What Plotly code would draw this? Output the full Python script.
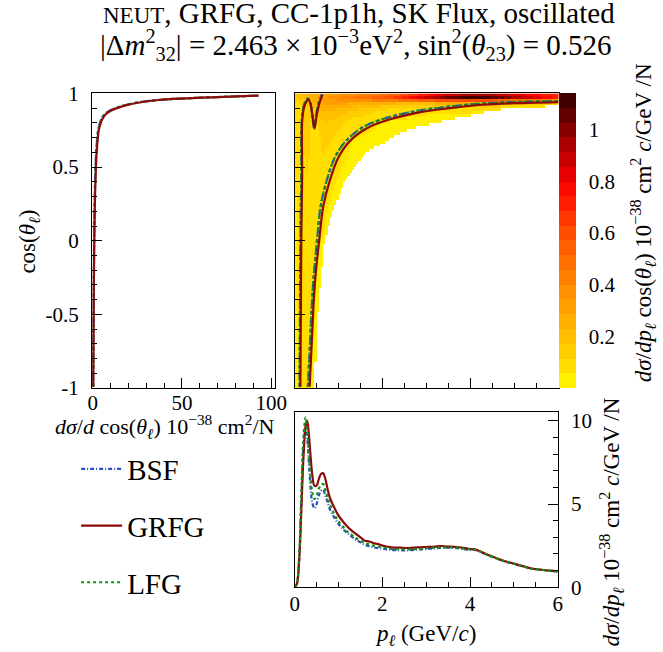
import numpy as np
import plotly.graph_objects as go

W, H = 663, 652
SERIF = "Liberation Serif"

# ---------------- dsigma/dcos(theta_l) ----------------
cos_pts = [-0.99, -0.9, -0.7, -0.5, -0.3, -0.1, 0.0, 0.1, 0.3, 0.5, 0.6, 0.7,
           0.75, 0.8, 0.83, 0.86, 0.88, 0.90, 0.92, 0.94, 0.955, 0.965, 0.975, 0.985]
dcos_grfg = [0.3, 0.35, 0.45, 0.55, 0.65, 0.8, 0.9, 1.0, 1.3, 1.8, 2.2, 2.9,
             3.4, 4.5, 5.6, 7.5, 9.8, 13.6, 19.0, 27.0, 37.0, 50.0, 70.0, 93.0]
dcos_lfg = [0.27, 0.32, 0.41, 0.5, 0.6, 0.72, 0.8, 0.9, 1.15, 1.6, 1.95, 2.6,
            3.1, 4.1, 5.1, 6.9, 9.2, 12.9, 18.2, 26.2, 36.5, 49.5, 70.0, 93.5]
dcos_bsf = [0.26, 0.31, 0.4, 0.49, 0.58, 0.7, 0.78, 0.88, 1.12, 1.55, 1.9, 2.55,
            3.05, 4.0, 5.0, 6.8, 9.1, 12.8, 18.0, 26.0, 36.3, 49.3, 69.8, 93.4]

# ---------------- dsigma/dp_l ----------------
p_pts = [0.0, 0.05, 0.1, 0.15, 0.2, 0.25, 0.28, 0.3, 0.35, 0.4, 0.45, 0.5, 0.55,
         0.6, 0.65, 0.7, 0.75, 0.8, 0.9, 1.0, 1.1, 1.2, 1.3, 1.4, 1.5, 1.6, 1.7,
         1.8, 1.9, 2.0, 2.1, 2.2, 2.4, 2.6, 2.8, 3.0, 3.2, 3.3, 3.5, 3.7, 3.9,
         4.0, 4.1, 4.2, 4.4, 4.6, 4.8, 5.0, 5.2, 5.4, 5.6, 5.8, 6.0]
dp_grfg = [0.0, 0.2, 1.5, 4.5, 7.8, 9.7, 10.0, 9.8, 8.3, 6.8, 6.1, 6.1, 6.5,
           6.8, 6.85, 6.5, 5.9, 5.4, 4.8, 4.3, 3.95, 3.65, 3.4, 3.2, 3.0, 2.8, 2.75,
           2.65, 2.6, 2.5, 2.45, 2.4, 2.38, 2.36, 2.4, 2.42, 2.44, 2.48, 2.45, 2.42, 2.35,
           2.3, 2.28, 2.2, 1.95, 1.75, 1.56, 1.42, 1.27, 1.13, 1.06, 1.0, 0.95]
dp_lfg = [0.0, 0.25, 1.8, 5.5, 9.0, 10.2, 9.6, 9.0, 7.0, 5.7, 5.3, 5.5, 5.9,
          6.15, 6.2, 5.8, 5.4, 5.0, 4.4, 3.95, 3.65, 3.35, 3.15, 2.95, 2.8, 2.65, 2.58,
          2.5, 2.45, 2.4, 2.35, 2.3, 2.28, 2.27, 2.3, 2.35, 2.38, 2.4, 2.4, 2.38, 2.3,
          2.28, 2.26, 2.18, 1.95, 1.74, 1.56, 1.42, 1.27, 1.13, 1.06, 1.0, 0.95]
dp_bsf = [0.0, 0.22, 1.6, 5.0, 8.4, 9.5, 9.1, 8.5, 6.4, 5.1, 4.75, 5.0, 5.5,
          5.8, 5.85, 5.5, 5.1, 4.7, 4.2, 3.8, 3.5, 3.25, 3.05, 2.85, 2.7, 2.55, 2.47,
          2.4, 2.36, 2.32, 2.28, 2.25, 2.22, 2.22, 2.26, 2.3, 2.34, 2.36, 2.38, 2.35, 2.28,
          2.25, 2.24, 2.17, 1.94, 1.74, 1.55, 1.41, 1.26, 1.13, 1.06, 1.0, 0.95]

# ---------------- contour lines on the (p, cos) plane ----------------
loop_p_grfg = [0.13, 0.14, 0.15, 0.17, 0.17, 0.21, 0.26, 0.31, 0.36, 0.40, 0.45, 0.50, 0.56, 0.63]
loop_c_grfg = [-0.99, -0.5, 0.0, 0.44, 0.81, 0.90, 0.94, 0.96, 0.93, 0.86, 0.76, 0.85, 0.93, 0.99]
arm_p_grfg = [0.34, 0.39, 0.43, 0.47, 0.56, 0.65, 0.80, 0.99, 1.24, 1.62, 2.06, 2.8, 3.54, 4.28, 5.02, 5.99]
arm_c_grfg = [-0.99, -0.68, -0.43, -0.25, 0.01, 0.235, 0.41, 0.563, 0.672, 0.76, 0.814, 0.869, 0.90, 0.923, 0.934, 0.941]

loop_p_alt = [0.11, 0.12, 0.13, 0.15, 0.16, 0.20, 0.25, 0.30, 0.35, 0.39, 0.44, 0.49, 0.55, 0.62]
loop_c_alt = [-0.99, -0.5, 0.0, 0.44, 0.81, 0.91, 0.95, 0.965, 0.94, 0.87, 0.77, 0.86, 0.94, 0.995]
arm_p_alt = [0.30, 0.35, 0.39, 0.43, 0.51, 0.59, 0.73, 0.91, 1.15, 1.52, 1.96, 2.7, 3.44, 4.2, 4.96, 5.99]
arm_c_alt = [-0.99, -0.68, -0.43, -0.25, 0.01, 0.235, 0.41, 0.563, 0.672, 0.765, 0.822, 0.877, 0.908, 0.93, 0.941, 0.948]

# ---------------- 2D cross section: sampled levels ----------------
hm_cos = [-0.99, -0.6, -0.2, 0.2, 0.5, 0.7, 0.8, 0.86, 0.9, 0.93, 0.95, 0.97, 0.99]
hm_p = [0.025, 0.15, 0.3, 0.45, 0.65, 0.9, 1.3, 2.0, 2.5, 3.0, 3.5, 4.0, 4.5, 5.0, 5.5, 6.0]
hm_levels = [
    [0.04, 0.065, 0.065, 0.04, 0.03, 0.03, 0.03, 0.03, 0.03, 0.03, 0.03, 0.03, 0.03, 0.03, 0.03, 0.03],
    [0.045, 0.07, 0.075, 0.05, 0.035, 0.03, 0.03, 0.03, 0.03, 0.03, 0.03, 0.03, 0.03, 0.03, 0.03, 0.03],
    [0.05, 0.08, 0.085, 0.06, 0.045, 0.03, 0.03, 0.03, 0.03, 0.03, 0.03, 0.03, 0.03, 0.03, 0.03, 0.03],
    [0.055, 0.09, 0.1, 0.065, 0.065, 0.04, 0.03, 0.03, 0.03, 0.03, 0.03, 0.03, 0.03, 0.03, 0.03, 0.03],
    [0.06, 0.1, 0.12, 0.065, 0.1, 0.07, 0.04, 0.03, 0.03, 0.03, 0.03, 0.03, 0.03, 0.03, 0.03, 0.03],
    [0.065, 0.11, 0.13, 0.07, 0.14, 0.11, 0.06, 0.04, 0.03, 0.03, 0.03, 0.03, 0.03, 0.03, 0.03, 0.03],
    [0.07, 0.11, 0.13, 0.09, 0.17, 0.15, 0.09, 0.055, 0.045, 0.04, 0.035, 0.03, 0.03, 0.03, 0.03, 0.03],
    [0.08, 0.11, 0.13, 0.13, 0.21, 0.2, 0.14, 0.085, 0.07, 0.06, 0.055, 0.05, 0.045, 0.04, 0.04, 0.04],
    [0.09, 0.11, 0.13, 0.17, 0.25, 0.25, 0.2, 0.13, 0.1, 0.09, 0.085, 0.08, 0.07, 0.06, 0.055, 0.05],
    [0.11, 0.12, 0.15, 0.21, 0.29, 0.3, 0.28, 0.24, 0.22, 0.22, 0.24, 0.24, 0.22, 0.19, 0.16, 0.13],
    [0.13, 0.15, 0.19, 0.25, 0.31, 0.34, 0.36, 0.42, 0.47, 0.54, 0.62, 0.62, 0.57, 0.5, 0.44, 0.38],
    [0.17, 0.19, 0.23, 0.27, 0.32, 0.37, 0.44, 0.56, 0.7, 0.88, 1.04, 1.12, 1.08, 0.96, 0.82, 0.7],
    [0.19, 0.21, 0.24, 0.27, 0.3, 0.33, 0.38, 0.47, 0.6, 0.74, 0.88, 0.94, 0.92, 0.84, 0.76, 0.68],
]
# kinematic edge: largest filled p per cos row
edge_cos = [-1.0, -0.5, 0.0, 0.2, 0.4, 0.5, 0.6, 0.7, 0.76, 0.8, 0.845, 0.875, 0.9, 0.915, 1.0]
edge_p = [0.45, 0.52, 0.68, 0.87, 1.12, 1.35, 1.65, 2.2, 2.6, 3.2, 3.9, 4.4, 4.9, 6.1, 6.1]

# bins of the 2D histogram
p_edges = np.linspace(0.0, 6.0, 121)
c_edges = np.linspace(-1.0, 1.0, 101)
p_c = 0.5 * (p_edges[1:] + p_edges[:-1])
c_c = 0.5 * (c_edges[1:] + c_edges[:-1])

lev = np.array(hm_levels)
rows_on_p = np.array([np.interp(p_c, hm_p, r) for r in lev])
z = np.empty((len(c_c), len(p_c)))
for j in range(len(p_c)):
    z[:, j] = np.interp(c_c, hm_cos, rows_on_p[:, j])
pmax = np.interp(c_c, edge_cos, edge_p)
zz = [[(float(z[i, j]) if p_c[j] <= pmax[i] else None) for j in range(len(p_c))]
      for i in range(len(c_c))]

ZMAX = 1.14
cb_ticks = [0.2, 0.4, 0.6, 0.8, 1.0]
cb_text = ["0.2", "0.4", "0.6", "0.8", "1"]
band_cols = ["#fff000", "#ffde00", "#ffcd00", "#ffbe00", "#ffaf00", "#ffa000",
             "#ff9100", "#ff8000", "#ff7000", "#ff5f00", "#ff4e00", "#ff3700",
             "#ff1e00", "#fa0a00", "#e60000", "#c80000", "#aa0000", "#870000",
             "#640000", "#410000"]
cscale = []
nb = len(band_cols)
for k, col in enumerate(band_cols):
    cscale.append([k / nb, col])
    cscale.append([(k + 1) / nb, col])

RED = "#8c0a0a"
BLUE = "#2a4fc0"
GREEN = "#159015"
BSF_DASH = "4px,2px,1px,2px"

# panel frames in pixels
TOP, MID = 84.5, 390.5
CB_L, CB_W = 568.3, 17

fig = go.Figure()

fig.add_trace(go.Heatmap(
    x=p_c, y=c_c, z=zz, zmin=0, zmax=ZMAX, colorscale=cscale, zsmooth=False,
    xaxis="x2", yaxis="y2", hoverinfo="skip",
    colorbar=dict(x=CB_L / W, xanchor="left", xpad=0, ypad=0, thickness=CB_W,
                  len=(MID - TOP) / H, y=1 - (TOP + MID) / 2 / H, yanchor="middle",
                  tickvals=cb_ticks, ticktext=cb_text,
                  ticks="outside", ticklen=9, tickcolor="rgba(0,0,0,0)", outlinewidth=0,
                  tickfont=dict(family=SERIF, size=21, color="black")),
))

# contours (GRFG drawn on top)
for lp, lc, ap, ac, col, dash in [
        (loop_p_alt, loop_c_alt, arm_p_alt, arm_c_alt, BLUE, BSF_DASH),
        (loop_p_alt, loop_c_alt, arm_p_alt, arm_c_alt, GREEN, "dot"),
        (loop_p_grfg, loop_c_grfg, arm_p_grfg, arm_c_grfg, RED, "solid")]:
    for xs, ys in [(lp, lc), (ap, ac)]:
        fig.add_trace(go.Scatter(x=xs, y=ys, mode="lines", line=dict(color=col, width=2.2, dash=dash, shape="spline"),
                                 xaxis="x2", yaxis="y2", showlegend=False, hoverinfo="skip"))

# left panel
for xs, col, dash in [(dcos_bsf, BLUE, BSF_DASH), (dcos_lfg, GREEN, "dot"), (dcos_grfg, RED, "solid")]:
    fig.add_trace(go.Scatter(x=xs, y=cos_pts, mode="lines", line=dict(color=col, width=2.2, dash=dash, shape="spline"),
                             xaxis="x", yaxis="y", showlegend=False, hoverinfo="skip"))

# bottom panel (legend entries)
for ys, col, dash, name in [(dp_bsf, BLUE, BSF_DASH, "BSF"), (dp_grfg, RED, "solid", "GRFG"),
                            (dp_lfg, GREEN, "dot", "LFG")]:
    fig.add_trace(go.Scatter(x=p_pts, y=ys, mode="lines", name=name, legendgroup=name,
                             line=dict(color=col, width=2.2, dash=dash, shape="spline"),
                             xaxis="x3", yaxis="y3", hoverinfo="skip"))

tickfont = dict(family=SERIF, size=21, color="black")
common = dict(showgrid=False, zeroline=False, showline=True, linecolor="black", linewidth=1,
              mirror=True, ticks="inside", ticklen=10, tickcolor="black", tickfont=tickfont)

ydom = [1 - MID / H, 1 - TOP / H]
fig.update_layout(
    width=W, height=H, margin=dict(l=0, r=0, t=0, b=0),
    paper_bgcolor="white", plot_bgcolor="white",
    xaxis=dict(domain=[89.3 / W, 276.7 / W], range=[-0.4, 101.9], tickvals=[0, 50, 100],
               minor=dict(dtick=10, ticklen=5, ticks="inside", tickcolor="black"), anchor="y",
               ticklabelstandoff=-4, **common),
    yaxis=dict(domain=ydom, range=[-1, 1], tickvals=[-1, -0.5, 0, 0.5, 1],
               ticktext=["-1", "-0.5", "0", "0.5", "1"], ticklabelstandoff=8,
               minor=dict(dtick=0.1, ticklen=5, ticks="inside", tickcolor="black"), anchor="x", **common),
    xaxis2=dict(domain=[297.3 / W, CB_L / W], range=[0, 6], tickvals=[0, 2, 4, 6], showticklabels=False,
                minor=dict(dtick=0.5, ticklen=5, ticks="inside", tickcolor="black"), anchor="y2", **common),
    yaxis2=dict(domain=ydom, range=[-1, 1], tickvals=[-1, -0.5, 0, 0.5, 1], showticklabels=False,
                minor=dict(dtick=0.1, ticklen=5, ticks="inside", tickcolor="black"), anchor="x2", **common),
    xaxis3=dict(domain=[297.3 / W, 567.3 / W], range=[0, 6], tickvals=[0, 2, 4, 6],
                minor=dict(dtick=0.5, ticklen=5, ticks="inside", tickcolor="black"), anchor="y3",
                ticklabelstandoff=-3, **common),
    yaxis3=dict(domain=[1 - 597.3 / H, 1 - 415 / H], range=[0, 10.54], tickvals=[0, 5, 10], side="right",
                minor=dict(dtick=1, ticklen=5, ticks="inside", tickcolor="black"), anchor="x3",
                ticklabelstandoff=8, **common),
    legend=dict(x=73 / W, y=1 - 448 / H, xanchor="left", yanchor="top", tracegroupgap=16,
                font=dict(family=SERIF, size=29, color="black"), bgcolor="rgba(0,0,0,0)",
                itemwidth=41, traceorder="grouped"),
)

# colour-bar tick marks pointing into the bar from its right edge
for v in cb_ticks:
    yv = 1 - MID / H + v / ZMAX * (MID - TOP) / H
    fig.add_shape(type="line", xref="paper", yref="paper",
                  x0=(CB_L + CB_W - 8) / W, x1=(CB_L + CB_W) / W, y0=yv, y1=yv,
                  line=dict(color="black", width=1))

ann = [
    dict(text="<span style='font-size:23px'>NEUT</span>, GRFG, CC-1p1h, SK Flux, oscillated",
         x=363, y=1, size=29, angle=0),
    dict(text="|Δ<i>m</i><sup>2</sup><sub>32</sub>| = 2.463 × 10<sup>−3</sup>eV<sup>2</sup>, "
              "sin<sup>2</sup>(<i>θ</i><sub>23</sub>) = 0.526",
         x=360, y=34, size=29, angle=0),
    dict(text="cos(<i>θ</i><sub><i>ℓ</i></sub>)", x=25, y=238, size=23, angle=-90),
    dict(text="<i>dσ</i>/<i>d</i> cos(<i>θ</i><sub><i>ℓ</i></sub>) 10<sup>−38</sup> cm<sup>2</sup>/N",
         x=164, y=430, size=22, angle=0),
    dict(text="<i>p</i><sub><i>ℓ</i></sub> (GeV/<i>c</i>)", x=432, y=647, size=23, angle=0),
    dict(text="<i>dσ</i>/<i>dp</i><sub><i>ℓ</i></sub> 10<sup>−38</sup> cm<sup>2</sup> <i>c</i>/GeV /N",
         x=622, y=530, size=23, angle=-90),
    dict(text="<i>dσ</i>/<i>dp</i><sub><i>ℓ</i></sub> cos(<i>θ</i><sub><i>ℓ</i></sub>) 10<sup>−38</sup> cm<sup>2</sup> <i>c</i>/GeV /N",
         x=655, y=219, size=23, angle=-90),
]
for a in ann:
    fig.add_annotation(text=a["text"], x=a["x"] / W, y=1 - a["y"] / H, xref="paper", yref="paper",
                       xanchor="center", yanchor="middle", showarrow=False, textangle=a["angle"],
                       font=dict(family=SERIF, size=a["size"], color="black"))

fig.write_html("out.html")
